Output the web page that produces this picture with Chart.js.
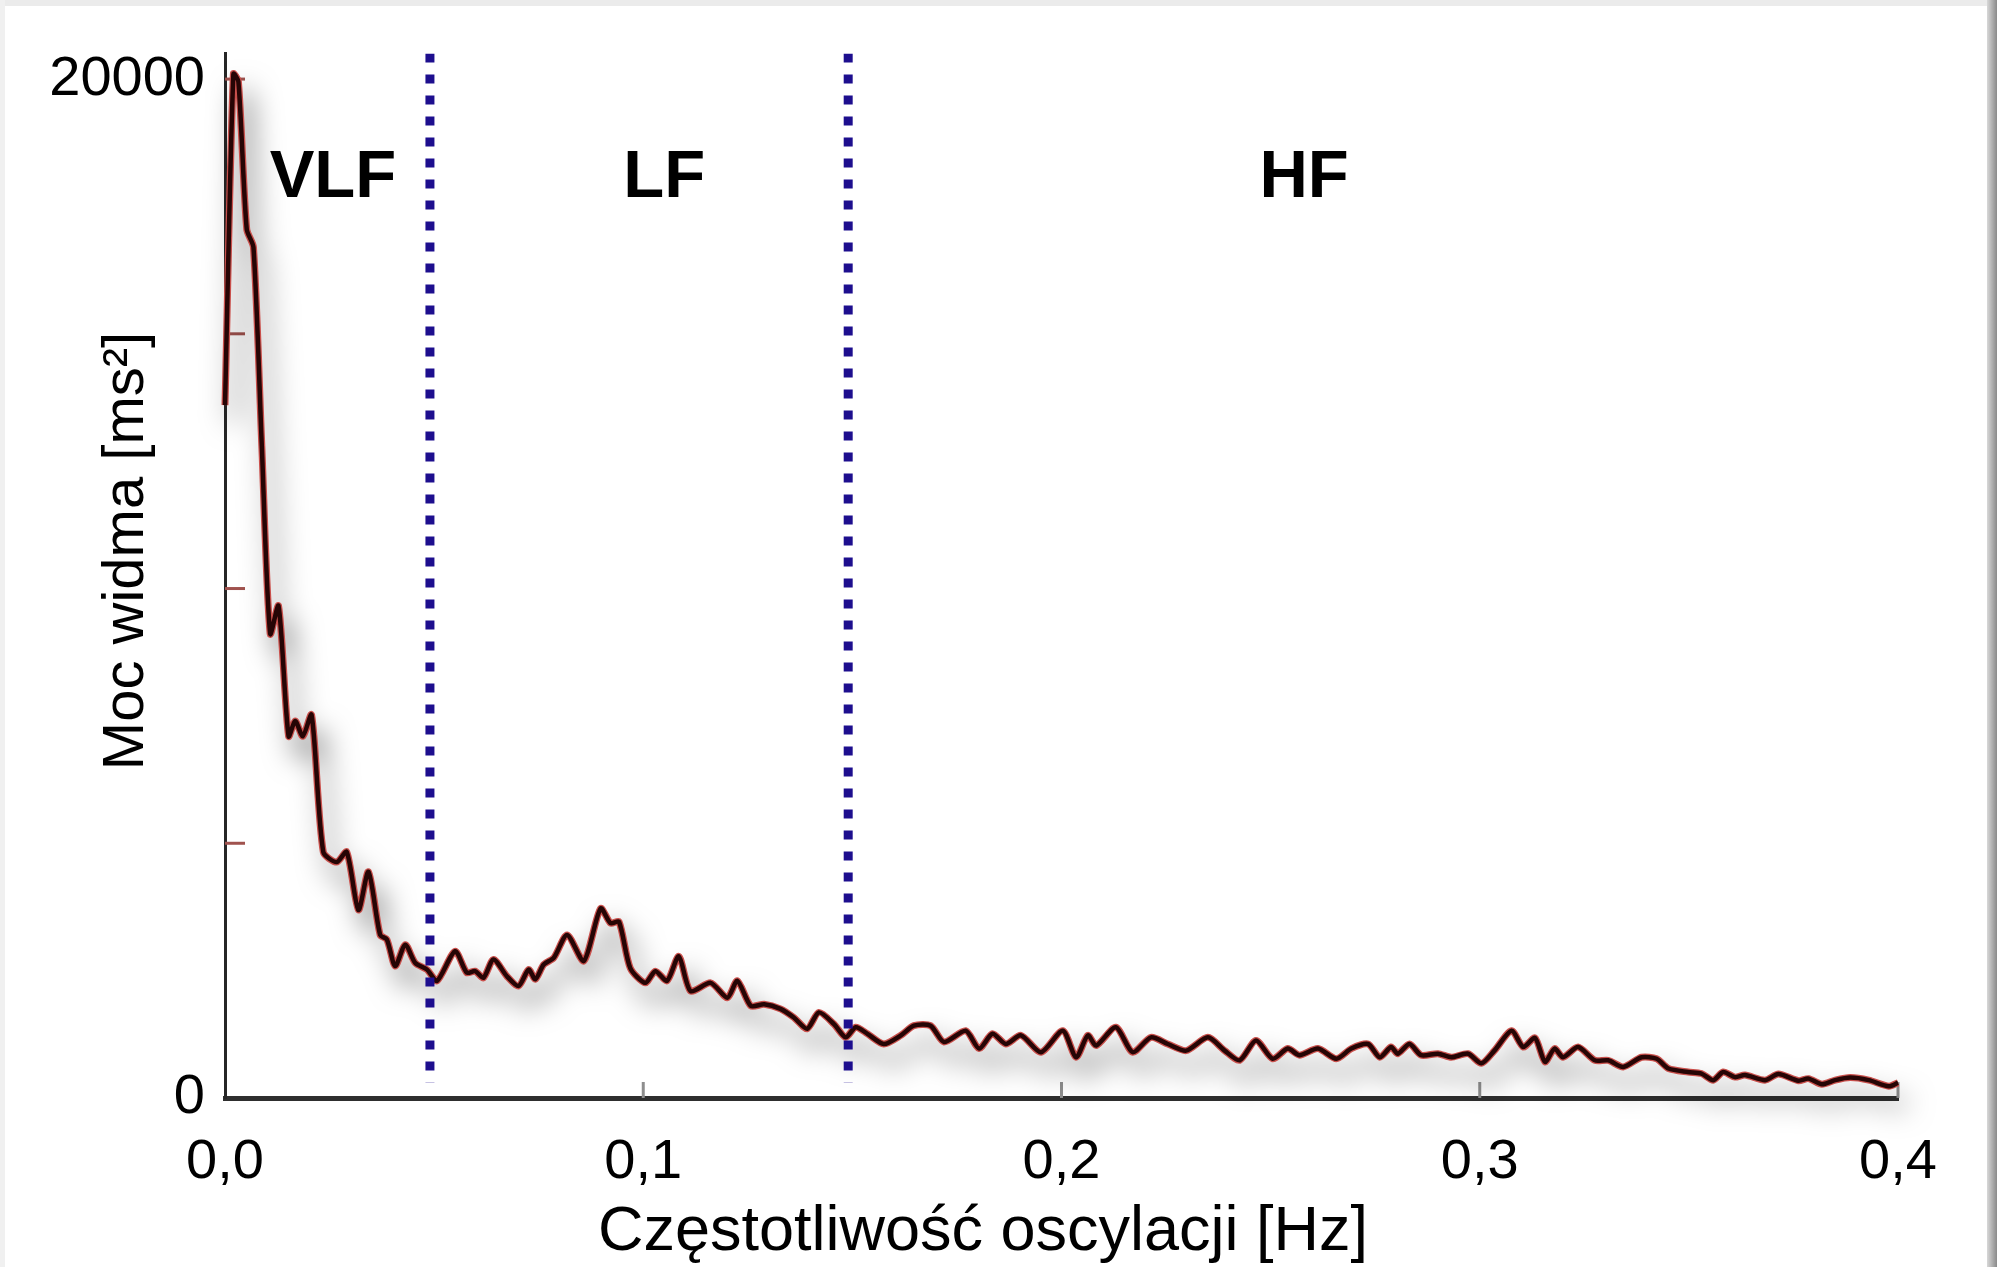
<!DOCTYPE html>
<html>
<head>
<meta charset="utf-8">
<title>Moc widma HRV</title>
<script src="https://cdn.jsdelivr.net/npm/chart.js@4.4.1/dist/chart.umd.min.js"></script>
<style>
  html, body { margin: 0; padding: 0; background: #fff; }
  #wrap { position: relative; width: 1997px; height: 1267px; overflow: hidden; }
  #chart { position: absolute; left: 0; top: 0; }
  .edge-top { position: absolute; left: 0; top: 0; width: 100%; height: 6px; background: #ebebeb; }
  .edge-left { position: absolute; left: 0; top: 0; width: 5px; height: 100%; background: #f0f0f0; }
  .edge-right { position: absolute; right: 0; top: 0; width: 10px; height: 100%; background: linear-gradient(to right, #d8d8d8, #8a8a8a); }
</style>
</head>
<body>
<div id="wrap">
  <canvas id="chart" width="1997" height="1267"></canvas>
  <div class="edge-top"></div>
  <div class="edge-left"></div>
  <div class="edge-right"></div>
</div>
<script>
// --- Data ---
const freqHz = [
  0.0000, 0.0020, 0.0032, 0.0052, 0.0068, 0.0088, 0.0108, 0.0128, 0.0152, 0.0168,
  0.0186, 0.0207, 0.0235, 0.0267, 0.0291, 0.0319, 0.0343, 0.0371, 0.0387, 0.0407,
  0.0431, 0.0455, 0.0483, 0.0507, 0.0550, 0.0578, 0.0598, 0.0618, 0.0642, 0.0674,
  0.0702, 0.0726, 0.0742, 0.0762, 0.0786, 0.0818, 0.0858, 0.0898, 0.0922, 0.0942,
  0.0969, 0.1005, 0.1029, 0.1057, 0.1085, 0.1113, 0.1161, 0.1201, 0.1225, 0.1257,
  0.1289, 0.1328, 0.1360, 0.1392, 0.1420, 0.1456, 0.1484, 0.1508, 0.1536, 0.1575,
  0.1616, 0.1647, 0.1687, 0.1719, 0.1771, 0.1803, 0.1835, 0.1867, 0.1903, 0.1951,
  0.2003, 0.2035, 0.2063, 0.2083, 0.2130, 0.2170, 0.2214, 0.2254, 0.2298, 0.2350,
  0.2390, 0.2426, 0.2465, 0.2505, 0.2541, 0.2569, 0.2613, 0.2657, 0.2693, 0.2733,
  0.2761, 0.2788, 0.2804, 0.2832, 0.2860, 0.2900, 0.2932, 0.2972, 0.3004, 0.3035,
  0.3076, 0.3104, 0.3132, 0.3156, 0.3179, 0.3199, 0.3235, 0.3275, 0.3307, 0.3343,
  0.3387, 0.3423, 0.3451, 0.3498, 0.3530, 0.3558, 0.3582, 0.3610, 0.3634, 0.3682,
  0.3714, 0.3762, 0.3786, 0.3818, 0.3850, 0.3886, 0.3930, 0.3978, 0.4000
];
const powerMs2 = [
  13600, 20100, 19950, 17050, 16700, 12800, 9110, 9660, 7100, 7400,
  7100, 7520, 4830, 4630, 4830, 3690, 4440, 3200, 3110, 2590,
  3010, 2650, 2520, 2300, 2880, 2460, 2490, 2360, 2720, 2390,
  2200, 2520, 2330, 2620, 2750, 3200, 2690, 3720, 3430, 3460,
  2550, 2260, 2490, 2300, 2780, 2100, 2260, 1970, 2300, 1810,
  1840, 1750, 1580, 1360, 1680, 1450, 1190, 1390, 1260, 1060,
  1230, 1420, 1420, 1100, 1320, 970, 1260, 1060, 1230, 900,
  1320, 800, 1230, 1030, 1390, 900, 1190, 1060, 930, 1190,
  930, 740, 1130, 770, 970, 840, 970, 770, 970, 1060,
  800, 1000, 870, 1060, 840, 870, 800, 870, 680, 930,
  1320, 1000, 1180, 710, 970, 800, 1000, 740, 740, 610,
  800, 770, 580, 510, 480, 350, 510, 410, 450, 350,
  470, 340, 380, 270, 350, 400, 350, 230, 300
];

const xTickValues = [0, 0.1, 0.2, 0.3, 0.4];
const yTickValues = [0, 5000, 10000, 15000, 20000];
const yLabelledTicks = [0, 20000];
const yAxisMax = 20500;

// band limits (dotted lines) and band names
const bandEdges = [0.049, 0.149];
const dividerBottom = 300;
const bandNames = ['VLF', 'LF', 'HF'];
const bandLabelFreq = [0.0258, 0.105, 0.258];
const bandLabelPower = 18050;

const xTitle = 'Częstotliwość oscylacji [Hz]';
const yTitle = 'Moc widma [ms²]';

const FONT = '"Liberation Sans", Arial, Helvetica, sans-serif';

const spectrum = freqHz.map((f, i) => ({ x: f, y: powerMs2[i] }));

// gray blurred shadow under the curve
const shadowPlugin = {
  id: 'curveShadow',
  beforeDatasetDraw(chart, args) {
    if (!chart.data.datasets[args.index].castShadow) return;
    const ctx = chart.ctx;
    ctx.save();
    ctx.shadowColor = 'rgba(0, 0, 0, 0.5)';
    ctx.shadowBlur = 28;
    ctx.shadowOffsetX = 9;
    ctx.shadowOffsetY = 18;
  },
  afterDatasetDraw(chart, args) {
    if (!chart.data.datasets[args.index].castShadow) return;
    chart.ctx.restore();
  }
};

// inner tick marks, band names and axis titles
const decorPlugin = {
  id: 'decor',
  beforeDatasetsDraw(chart) {
    const { ctx, chartArea } = chart;
    const x = chart.scales.x, y = chart.scales.y;
    ctx.save();
    ctx.lineWidth = 3;
    ctx.strokeStyle = '#8e8e8e';
    xTickValues.slice(1).forEach(v => {
      const px = x.getPixelForValue(v);
      ctx.beginPath();
      ctx.moveTo(px, chartArea.bottom);
      ctx.lineTo(px, chartArea.bottom - 16);
      ctx.stroke();
    });
    ctx.strokeStyle = '#a0524e';
    yTickValues.slice(1).forEach(v => {
      const py = y.getPixelForValue(v);
      ctx.beginPath();
      ctx.moveTo(chartArea.left, py);
      ctx.lineTo(chartArea.left + 20, py);
      ctx.stroke();
    });

    ctx.fillStyle = '#000';
    ctx.textAlign = 'center';
    ctx.textBaseline = 'middle';
    ctx.font = 'bold 67px ' + FONT;
    bandNames.forEach((name, i) => {
      ctx.fillText(name, x.getPixelForValue(bandLabelFreq[i]), y.getPixelForValue(bandLabelPower));
    });

    ctx.font = '63px ' + FONT;
    ctx.fillText(xTitle, 983, 1233);
    ctx.translate(127, 551);
    ctx.rotate(-Math.PI / 2);
    ctx.font = '58px ' + FONT;
    ctx.fillText(yTitle, 0, 0);
    ctx.restore();
  }
};

const dividerSets = bandEdges.map(e => ({
  data: [{ x: e, y: yAxisMax }, { x: e, y: dividerBottom }],
  borderColor: '#1d0e8e',
  borderWidth: 9,
  borderDash: [9, 12],
  borderCapStyle: 'butt',
  pointRadius: 0,
  tension: 0
}));

new Chart(document.getElementById('chart'), {
  type: 'line',
  data: {
    datasets: [
      ...dividerSets,
      {
        data: spectrum,
        borderColor: '#260505',
        borderWidth: 4.5,
        pointRadius: 0,
        tension: 0.25,
        clip: false
      },
      {
        data: spectrum,
        castShadow: true,
        borderColor: '#c9504c',
        borderWidth: 7,
        pointRadius: 0,
        tension: 0.25,
        clip: false
      }
    ]
  },
  options: {
    responsive: false,
    animation: false,
    layout: { padding: { top: 45, right: 99, left: 0, bottom: 0 } },
    plugins: { legend: { display: false }, tooltip: { enabled: false } },
    scales: {
      x: {
        type: 'linear',
        min: 0,
        max: 0.4,
        grid: { display: false, drawTicks: false },
        border: { display: true, color: '#2e2e2e', width: 5 },
        afterBuildTicks: s => { s.ticks = xTickValues.map(v => ({ value: v })); },
        afterFit: s => { s.height = 169; },
        ticks: {
          padding: 31,
          color: '#000',
          maxRotation: 0,
          autoSkip: false,
          font: { family: FONT, size: 56 },
          callback: v => v.toFixed(1).replace('.', ',')
        }
      },
      y: {
        type: 'linear',
        min: 0,
        max: yAxisMax,
        grid: { display: false, drawTicks: false },
        border: { display: true, color: '#262626', width: 3 },
        afterBuildTicks: s => { s.ticks = yTickValues.map(v => ({ value: v })); },
        afterFit: s => { s.width = 225; },
        ticks: {
          padding: 20,
          color: '#000',
          autoSkip: false,
          font: { family: FONT, size: 56 },
          callback: v => yLabelledTicks.includes(v) ? String(v) : ''
        }
      }
    }
  },
  plugins: [shadowPlugin, decorPlugin]
});
</script>
</body>
</html>
